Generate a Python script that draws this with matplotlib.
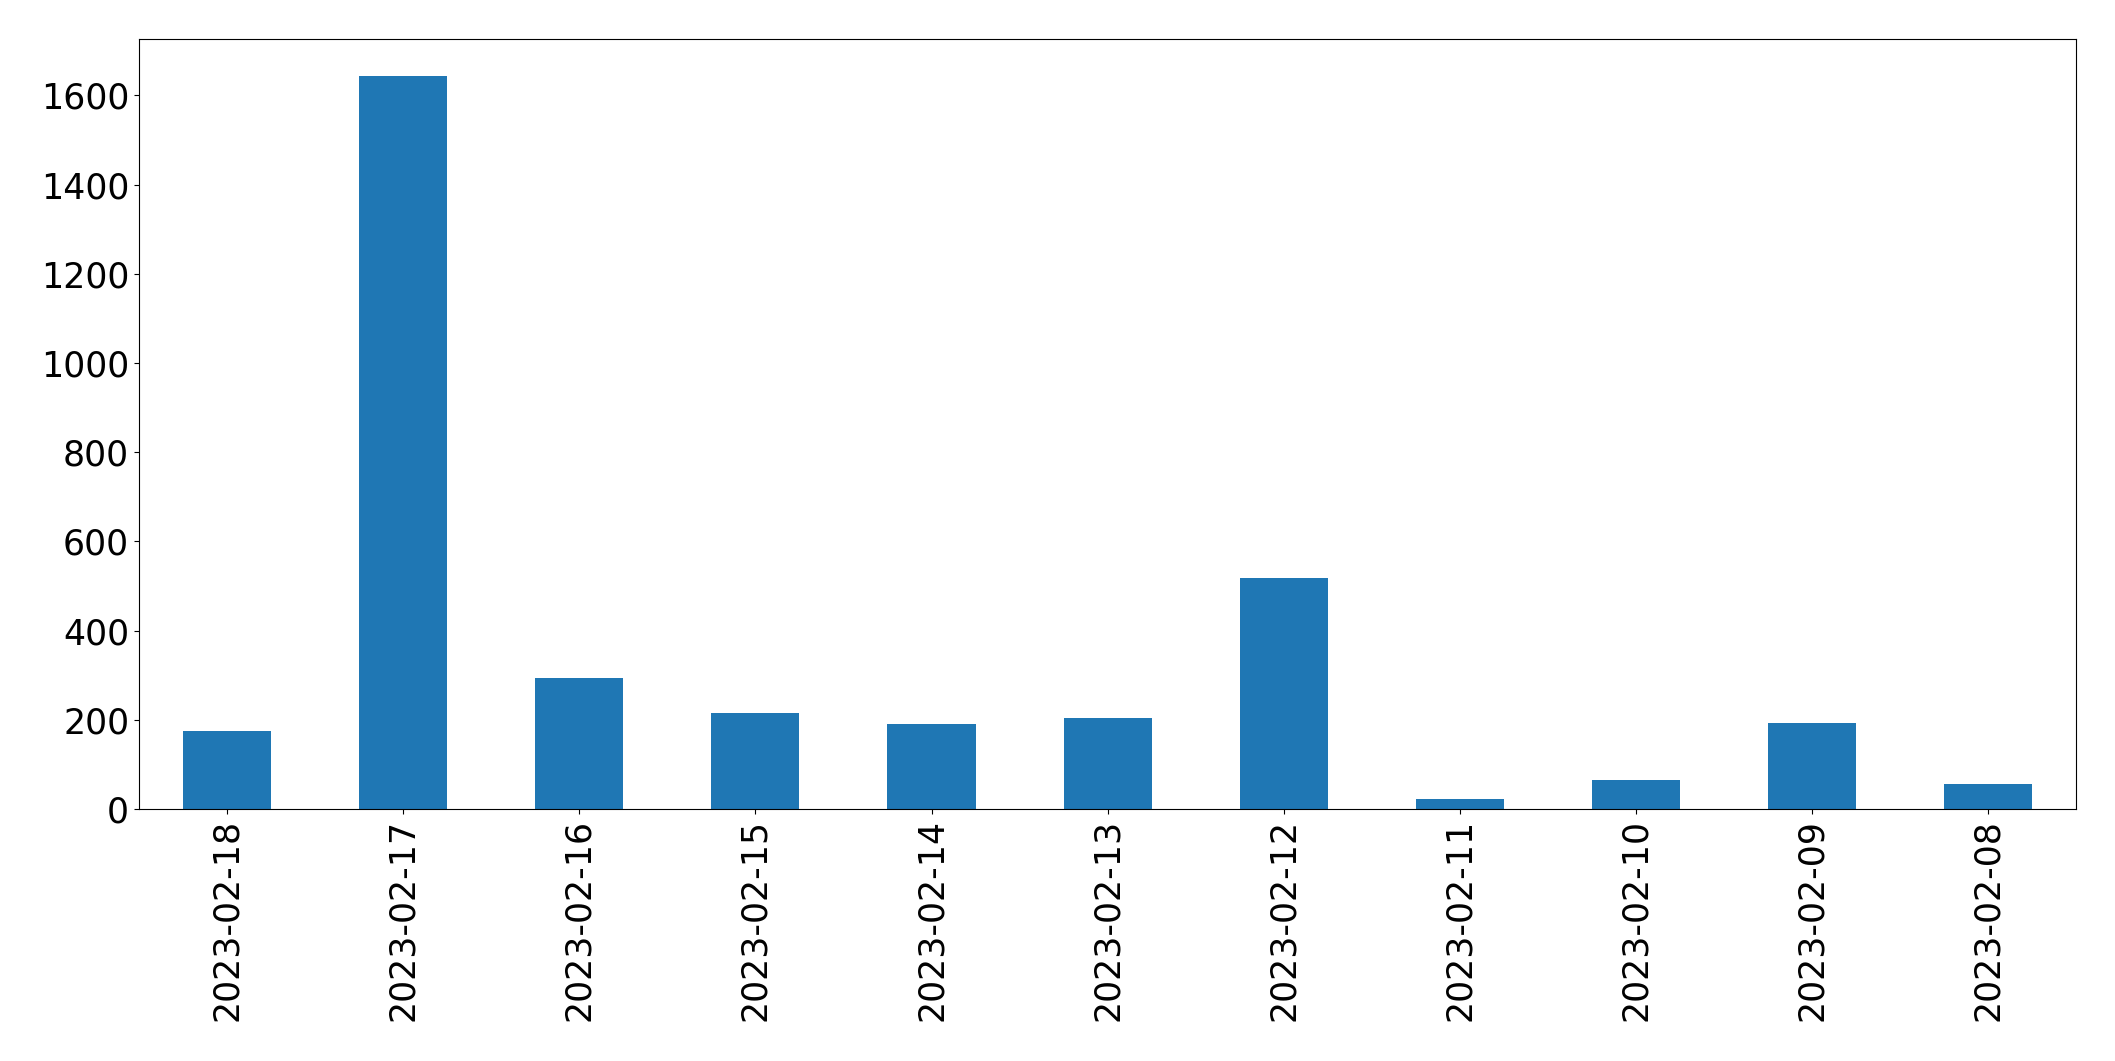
import matplotlib
matplotlib.use('Agg')
import matplotlib.pyplot as plt
import numpy as np

dates = ['2023-02-18', '2023-02-17', '2023-02-16', '2023-02-15',
         '2023-02-14', '2023-02-13', '2023-02-12', '2023-02-11',
         '2023-02-10', '2023-02-09', '2023-02-08']
counts = [174, 1644, 294, 215, 191, 203, 517, 23, 65, 193, 56]

plt.rcParams.update({'font.size': 25})
fig = plt.figure(figsize=(21.15, 10.61), dpi=100)
ax = fig.add_axes([0.0657, 0.2375, 0.916, 0.7257])

x = np.arange(len(dates))
ax.bar(x, counts, width=0.5, color='#1f77b4')
ax.set_xlim(-0.5, len(dates) - 0.5)
ax.set_xticks(x)
ax.set_xticklabels(dates, rotation=90)

fig.savefig('out.png', dpi=100)
